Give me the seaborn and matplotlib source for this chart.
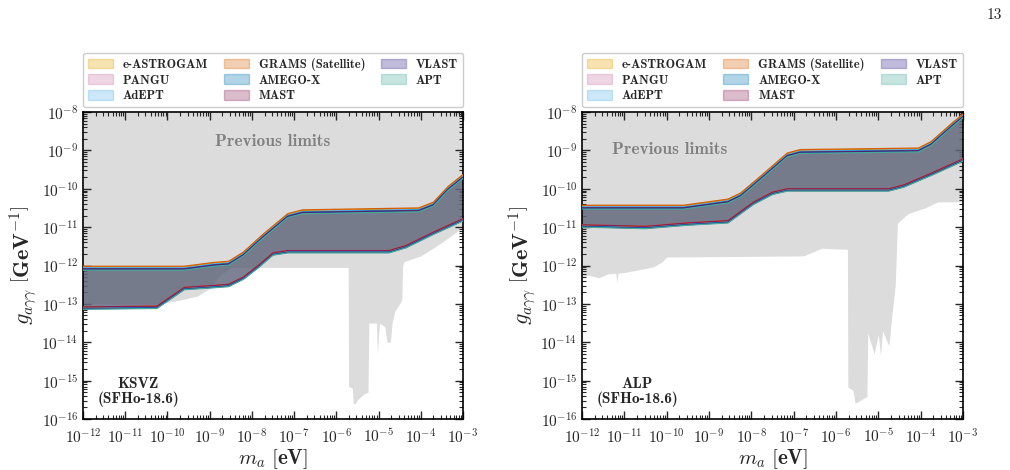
import numpy as np
import pandas as pd
import matplotlib
matplotlib.use('Agg')
import matplotlib.pyplot as plt
import seaborn as sns
from matplotlib.patches import Patch
from matplotlib.ticker import LogLocator, FuncFormatter, NullFormatter

# experiments (legend order, column-major)
experiments = ['e-ASTROGAM', 'PANGU', 'AdEPT', 'GRAMS (Satellite)',
               'AMEGO-X', 'MAST', 'VLAST', 'APT']
colors = ['#E69F00', '#CC79A7', '#56B4E9', '#D55E00',
          '#0072B2', '#882255', '#332288', '#44AA99']
# small per-experiment shifts of the band edges (dex)
shift_up = [0.03, 0.0, 0.01, 0.05, -0.01, -0.02, -0.03, -0.05]
shift_lo = [0.02, 0.03, 0.0, 0.03, -0.01, 0.03, -0.02, -0.03]

# KSVZ band (log10 m_a [eV], log10 g [GeV^-1])
ksvz_up_m = [-12, -9.6, -8.9, -8.55, -8.2, -7.75, -7.15, -6.8, -4.05, -3.7, -3.35, -3.0]
ksvz_up_g = [-12.07, -12.07, -11.97, -11.94, -11.70, -11.25, -10.70, -10.60, -10.55, -10.40, -9.99, -9.68]
ksvz_lo_m = [-12, -10.25, -9.6, -8.9, -8.55, -8.2, -7.85, -7.5, -7.15, -4.75, -4.35, -3.7, -3.0]
ksvz_lo_g = [-13.11, -13.09, -12.60, -12.55, -12.52, -12.33, -12.03, -11.70, -11.64, -11.64, -11.51, -11.16, -10.81]

# ALP band
alp_up_m = [-12, -9.6, -8.55, -8.25, -7.8, -7.15, -6.85, -4.05, -3.75, -3.3, -3.0]
alp_up_g = [-10.48, -10.48, -10.32, -10.16, -9.74, -9.12, -9.03, -8.99, -8.82, -8.38, -8.10]
alp_lo_m = [-12, -10.5, -9.5, -8.55, -7.95, -7.5, -7.15, -4.75, -4.4, -3.7, -3.0]
alp_lo_g = [-10.97, -11.01, -10.92, -10.86, -10.38, -10.12, -10.03, -10.03, -9.93, -9.60, -9.25]

# previous limits: lower boundary of excluded region
prev_ksvz_m = [-12, -10.2, -9.7, -9.3, -9.0, -8.8, -8.5, -5.72, -5.71, -5.62, -5.60, -5.55,
               -5.50, -5.40, -5.35, -5.25, -5.23, -5.05, -5.03, -4.98, -4.85, -4.80, -4.72,
               -4.68, -4.62, -4.50, -4.45, -4.43, -4.40, -4.0, -3.5, -3.0]
prev_ksvz_g = [-13.0, -13.0, -12.9, -12.8, -12.6, -12.3, -12.05, -12.05, -15.15, -15.2, -15.6, -15.6,
               -15.5, -15.4, -15.35, -15.3, -13.5, -13.5, -14.3, -13.5, -13.6, -14.0, -14.0,
               -13.5, -13.2, -13.0, -12.9, -12.0, -11.9, -11.75, -11.4, -11.0]
prev_alp_m = [-12, -11.85, -11.6, -11.4, -11.2, -11.18, -11.15, -11.0, -10.6, -10.3, -10.1, -10.0,
              -6.77, -6.55, -6.34, -5.73, -5.72, -5.6, -5.55, -5.4, -5.27, -5.25, -5.1, -5.0,
              -4.95, -4.9, -4.75, -4.70, -4.65, -4.6, -4.55, -4.3, -3.9, -3.6, -3.0]
prev_alp_g = [-12.29, -12.25, -12.32, -12.22, -12.20, -12.45, -12.2, -12.18, -12.1, -12.03, -11.9, -11.78,
              -11.75, -11.65, -11.55, -11.58, -15.17, -15.25, -15.59, -15.5, -15.41, -13.76, -14.3, -13.8,
              -14.33, -13.7, -14.1, -13.5, -13.0, -12.5, -10.9, -10.65, -10.5, -10.34, -10.34]

sns.set_style('ticks')
plt.rcParams['font.family'] = ['cmb10', 'DejaVu Serif']
plt.rcParams['mathtext.fontset'] = 'cm'
plt.rcParams['axes.unicode_minus'] = False
plt.rcParams['axes.formatter.use_mathtext'] = True


def tick_fmt(v, pos):
    return r'$\mathbf{10^{%d}}$' % int(round(np.log10(v)))


def draw_panel(ax, up_m, up_g, lo_m, lo_g, prev_m, prev_g, model, prev_xy):
    ax.set_xscale('log')
    ax.set_yscale('log')
    ax.fill_between(10.0 ** np.array(prev_m), 10.0 ** np.array(prev_g), 1e-8,
                    color='#dcdcdc', lw=0, zorder=0)

    rows = []
    for name, c, su, sl in zip(experiments, colors, shift_up, shift_lo):
        xu = 10.0 ** np.array(up_m)
        yu = 10.0 ** (np.array(up_g) + su)
        xl = 10.0 ** np.array(lo_m)
        yl = 10.0 ** (np.array(lo_g) + sl)
        ax.fill(np.concatenate([xu, xl[::-1]]), np.concatenate([yu, yl[::-1]]),
                color=c, alpha=0.2, lw=0, zorder=2)
        rows += [dict(m=a, g=b, exp=name, edge='up') for a, b in zip(xu, yu)]
        rows += [dict(m=a, g=b, exp=name, edge='lo') for a, b in zip(xl, yl)]
    df = pd.DataFrame(rows)
    sns.lineplot(data=df, x='m', y='g', hue='exp', units='edge', estimator=None,
                 palette=dict(zip(experiments, colors)), lw=0.9, legend=False,
                 ax=ax, zorder=3)

    ax.set_xlim(1e-12, 1e-3)
    ax.set_ylim(1e-16, 1e-8)
    for axis in (ax.xaxis, ax.yaxis):
        axis.set_major_locator(LogLocator(base=10, numticks=20))
        axis.set_minor_locator(LogLocator(base=10, subs=np.arange(2, 10), numticks=200))
        axis.set_major_formatter(FuncFormatter(tick_fmt))
        axis.set_minor_formatter(NullFormatter())
    ax.tick_params(which='both', direction='in', top=True, right=True, labelsize=11)
    ax.tick_params(axis='x', which='major', pad=6)
    ax.tick_params(which='major', length=6, width=1)
    ax.tick_params(which='minor', length=3, width=0.8)
    for s in ax.spines.values():
        s.set_linewidth(1.2)
        s.set_color('black')

    ax.set_xlabel(r'$m_a\ \mathbf{[eV]}$', fontsize=15, labelpad=1)
    ax.set_ylabel(r'$g_{a\gamma\gamma}\ \left[\mathbf{GeV}^{-1}\right]$', fontsize=16, labelpad=2)
    ax.text(prev_xy[0], prev_xy[1], 'Previous limits', transform=ax.transAxes,
            ha='center', va='center', fontsize=12.5, color='#808080')
    ax.text(0.145, 0.088, model + '\n(SFHo-18.6)', transform=ax.transAxes,
            ha='center', va='center', fontsize=11, linespacing=1.1)

    handles = [Patch(facecolor=c, edgecolor=c, alpha=0.3, lw=1) for c in colors]
    ax.legend(handles, experiments, ncol=3, loc='lower left', mode='expand',
              bbox_to_anchor=(0, 1.015, 1, 0.18), fontsize=9, frameon=True,
              edgecolor='#cccccc', framealpha=1, handlelength=2.0, handleheight=0.8,
              labelspacing=0.3, borderaxespad=0, fancybox=True)


fig = plt.figure(figsize=(10.1, 4.7), dpi=100)
ax1 = fig.add_axes([83 / 1010, 1 - 419 / 470, 380 / 1010, 307 / 470])
ax2 = fig.add_axes([582 / 1010, 1 - 419 / 470, 381 / 1010, 307 / 470])

draw_panel(ax1, ksvz_up_m, ksvz_up_g, ksvz_lo_m, ksvz_lo_g,
           prev_ksvz_m, prev_ksvz_g, 'KSVZ', (0.5, 0.903))
draw_panel(ax2, alp_up_m, alp_up_g, alp_lo_m, alp_lo_g,
           prev_alp_m, prev_alp_g, 'ALP', (0.231, 0.879))

fig.text(994 / 1010, 1 - 15 / 470, '13', ha='center', va='center',
         fontsize=11, family='cmr10')

fig.savefig('out.png', dpi=100)
